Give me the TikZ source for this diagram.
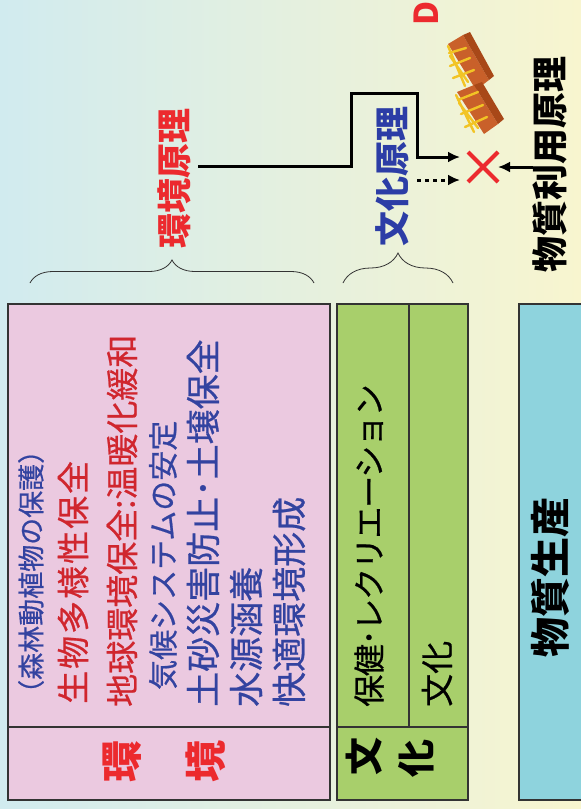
\documentclass[tikz,border=0pt]{standalone}
\usepackage{fontspec}
\setmainfont{Noto Sans CJK JP}
\newfontfamily\heavier{Noto Sans CJK JP}[FakeBold=0.7]
\usetikzlibrary{arrows.meta,decorations.pathreplacing,shapes.misc,positioning}

\definecolor{bgl}{HTML}{D1EBEF}
\definecolor{bgr}{HTML}{F8F5CF}
\definecolor{frame}{HTML}{333333}
\definecolor{envfill}{HTML}{EBC9E0}
\definecolor{culfill}{HTML}{A8CF6B}
\definecolor{matfill}{HTML}{8ED3DD}
\definecolor{envred}{HTML}{D0262E}
\definecolor{envblue}{HTML}{3343A0}
\definecolor{titred}{HTML}{EC2A2E}
\definecolor{titblue}{HTML}{2C3DA6}
\definecolor{brick}{HTML}{A84818}
\definecolor{bricktop}{HTML}{C9602A}
\definecolor{gold}{HTML}{F2C425}

\newcommand{\fsz}[1]{\fontsize{#1}{#1}\selectfont}

\begin{document}
\begin{tikzpicture}[x=1pt, y=-1pt,
	panel/.style={draw=frame, line width=1.2pt},
	rot/.style={rotate=90, inner sep=0pt},
	txt/.style={rot, anchor=west},
	head/.style={rot, font=\bfseries\fsz{35}},
	flow/.style={line width=3pt, -{Latex[length=12pt,width=11pt]}},
	curly/.style={decorate, decoration={brace, amplitude=#1}, draw=frame, line width=0.8pt}]
	\clip (0,0) rectangle (581,809);
	\shade[left color=bgl, right color=bgr] (0,0) rectangle (581,809);

	% the three panels
	\draw[panel, fill=envfill] (8,304) rectangle (330,800);
	\draw[panel] (8,727) -- (330,727);
	\draw[panel, fill=culfill] (337,304) rectangle (468,800);
	\draw[panel] (337,727) -- (468,727) (409,304) -- (409,727);
	\draw[panel, fill=matfill] (519,304) rectangle (600,800);

	% environment panel
	\node[txt, text=envblue, font=\heavier\fsz{27}] (forest) at (31,707) {（森林動植物の保護）};
	\node[txt, text=envred, font=\heavier\fsz{33}] (bio) at (73,704) {\addfontfeature{LetterSpace=6}生物多様性保全};
	\node[txt, text=envred, font=\heavier\fsz{33}] (globe) at (122,707) {地球環境保全:温暖化緩和};
	\node[txt, text=envblue, font=\heavier\fsz{30}] (climate) at (163,690) {気候システムの安定};
	\node[txt, text=envblue, font=\heavier\fsz{35}] (soil) at (203,707) {土砂災害防止･土壌保全};
	\node[txt, text=envblue, font=\heavier\fsz{35}] (water) at (246,707) {水源涵養};
	\node[txt, text=envblue, font=\heavier\fsz{35}] (amenity) at (289,707) {快適環境形成};
	\node[rot, text=titred, font=\bfseries\fsz{42}] (envA) at (122,761) {環};
	\node[rot, text=titred, font=\bfseries\fsz{42}] (envB) at (206,761) {境};

	% culture panel
	\node[txt, font=\heavier\fsz{32}] (health) at (369,707) {\addfontfeature{LetterSpace=-4}保健･レクリエーション};
	\node[txt, font=\heavier\fsz{33}] (culture) at (437,707) {文化};
	\node[rot, font=\bfseries\fsz{38}] (culA) at (364,756) {文};
	\node[rot, font=\bfseries\fsz{38}] (culB) at (416,758) {化};

	% production panel
	\node[rot, font=\bfseries\fsz{40}] (matter) at (550,577) {物質生産};

	% principles
	\node[head, text=titred] (envp) at (174,178) {環境原理};
	\node[head, text=titblue] (culp) at (392,176) {文化原理};
	\node[head, font=\bfseries\fsz{36}] (matp) at (550,164) {物質利用原理};
	\node[rot, text=titred, font=\bfseries\fsz{33}] (dmark) at (426,13) {D};

	\draw[curly=23] (30,283) -- (314,283);
	\draw[curly=30] (343,283) -- (453,283);

	% blocks
	\fill[bricktop] (448,44) -- (463,35) -- (489,80) -- (476,90) -- cycle;
	\fill[brick] (463,35) -- (470,32) -- (494,76) -- (489,80) -- cycle;
	\draw[gold, line width=2.4pt, line cap=round] (448,46) -- (465,86) (449,53) -- (466,48) (450,66) -- (470,58) (453,78) -- (474,70) (450,56) -- (468,82);
	\fill[bricktop] (457,92) -- (474,85) -- (498,124) -- (484,134) -- cycle;
	\fill[brick] (474,85) -- (482,82) -- (504,119) -- (498,124) -- cycle;
	\draw[gold, line width=2.4pt, line cap=round] (456,95) -- (474,132) (458,100) -- (478,92) (461,114) -- (483,105) (465,127) -- (487,117) (459,103) -- (478,128);

	% meeting point
	\node[cross out, draw=titred, line width=4pt, minimum size=26pt, inner sep=0pt] (cross) at (483,167) {};
	\coordinate (envp-out) at (198,166);
	\coordinate (bend1) at (351,93);
	\coordinate (bend2) at (417,157);
	\coordinate (in-top) at (460,157);
	\coordinate (dot-start) at (417,180);
	\coordinate (in-low) at (460,180);
	\draw[flow] (envp-out) -| (bend1) -| (bend2) -- (in-top);
	\draw[flow, dash pattern=on 4pt off 4pt] (dot-start) -- (in-low);
	\draw[flow] (matp.north |- cross.east) -- (cross.east);
\end{tikzpicture}
\end{document}
